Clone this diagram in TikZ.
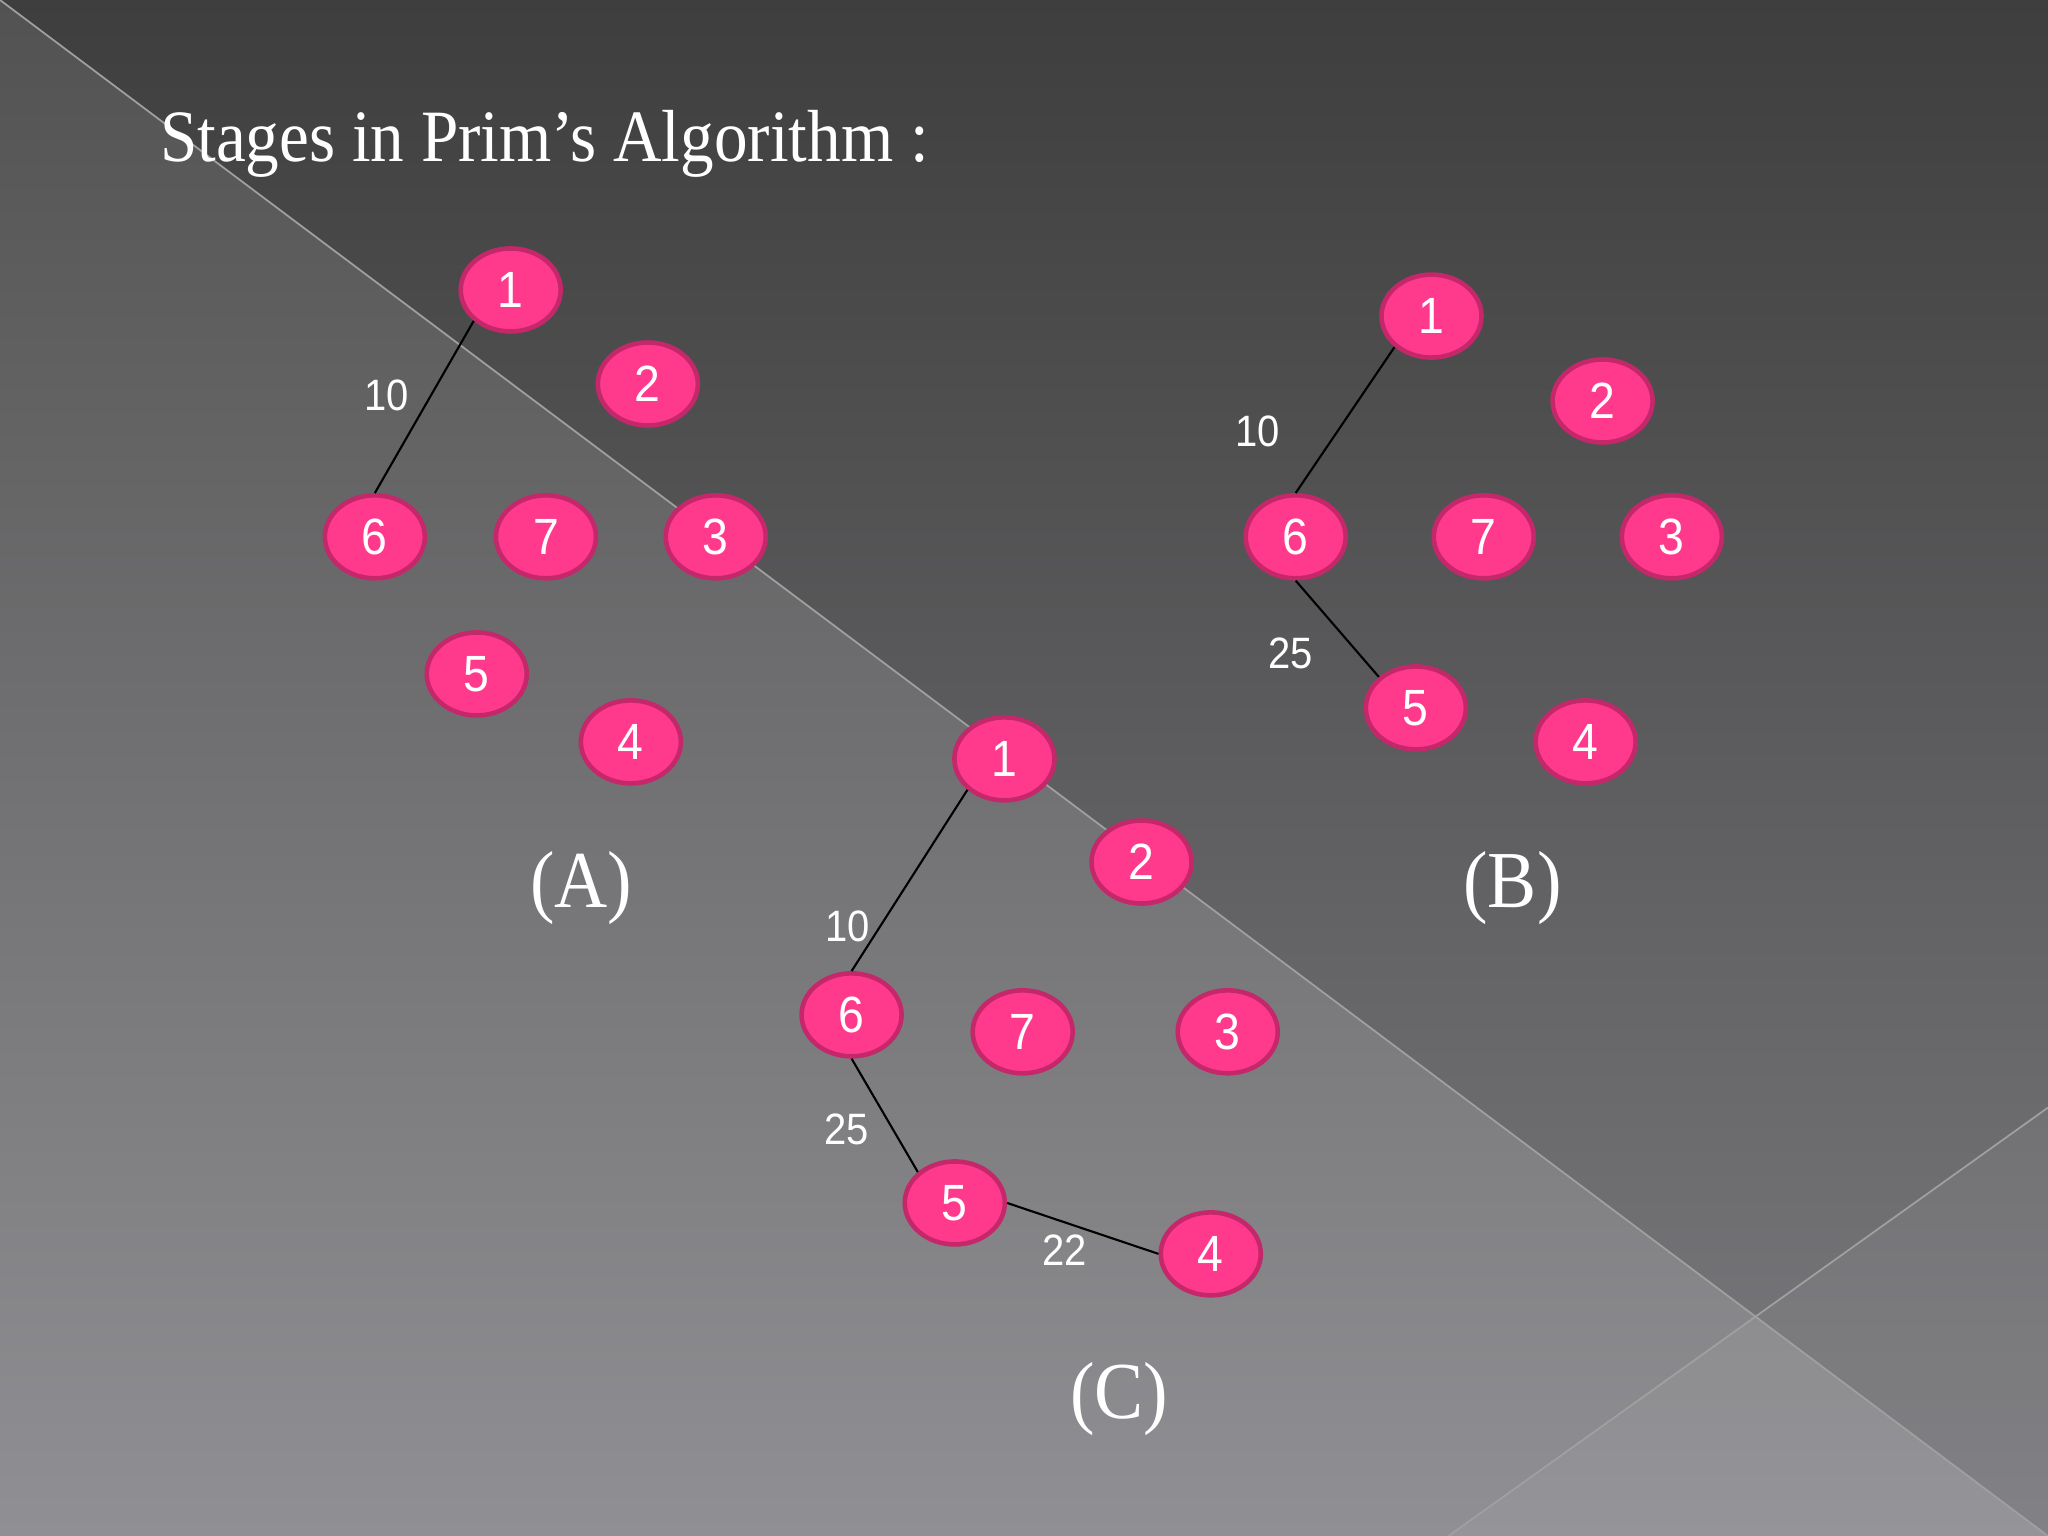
\documentclass[tikz,border=0pt]{standalone}
\usepackage{fontspec}
\setmainfont{Liberation Serif}[FakeStretch=0.91]
\newfontfamily\numfont{Liberation Sans}[FakeStretch=0.91]
\usepackage{tikz}
\usetikzlibrary{shapes.geometric}
\definecolor{vfill}{HTML}{FF3A8C}
\definecolor{vborder}{HTML}{C4286A}
\definecolor{bgtop}{HTML}{3E3E3E}
\definecolor{bgbot}{HTML}{7C7B7F}
\definecolor{lltop}{HTML}{525252}
\definecolor{llbot}{HTML}{908F93}
\definecolor{seamc}{HTML}{A0A0A0}

\begin{document}
\begin{tikzpicture}[x=0.013061cm, y=-0.013061cm,
   vertex/.style={ellipse, draw=vborder, fill=vfill, line width=1.3pt, minimum width=1.0cm, minimum height=0.83cm, inner sep=0pt, text=white, font=\numfont\fontsize{14.5}{16}\selectfont},
   wlabel/.style={inner sep=1pt, text=white, font=\numfont\fontsize{12.5}{14}\selectfont},
   stage/.style={anchor=base, inner sep=0pt, text=white, font=\fontsize{23}{26}\selectfont},
   wire/.style={draw=black, line width=0.6pt},
   seam/.style={draw=seamc, line width=0.5pt}]
   \useasboundingbox (0,0) rectangle (1568,1176);
   \fill[top color=bgtop, bottom color=bgbot] (0,0) rectangle (1568,1176);
   \fill[top color=lltop, bottom color=llbot] (0,0) -- (1568,1176) -- (0,1176) -- cycle;
   \fill[white, opacity=0.05] (1568,848) -- (1109,1176) -- (1568,1176) -- cycle;
   \draw[seam] (0,0) -- (1568,1176);
   \draw[seam] (1568,848) -- (1109,1176);

   \node[anchor=base west, inner sep=0pt, text=white, font=\fontsize{21}{25}\selectfont] (heading) at (122,124) {Stages in Prim’s Algorithm :};

   \node[vertex] (a1) at (391,222) {1};
   \node[vertex] (a2) at (496,294) {2};
   \node[vertex] (a6) at (287,411) {6};
   \node[vertex] (a7) at (418,411) {7};
   \node[vertex] (a3) at (548,411) {3};
   \node[vertex] (a5) at (365,516) {5};
   \node[vertex] (a4) at (483,568) {4};
   \node[wlabel] (a10) at (296,303) {10};
   \path[wire] (a1.south west) -- (a6.north);
   \node[stage] (capA) at (445,695) {(A)};

   \node[vertex] (b1) at (1096,242) {1};
   \node[vertex] (b2) at (1227,307) {2};
   \node[vertex] (b6) at (992,411) {6};
   \node[vertex] (b7) at (1136,411) {7};
   \node[vertex] (b3) at (1280,411) {3};
   \node[vertex] (b5) at (1084,542) {5};
   \node[vertex] (b4) at (1214,568) {4};
   \node[wlabel] (b10) at (963,330) {10};
   \node[wlabel] (b25) at (988,500) {25};
   \path[wire] (b1.south west) -- (b6.north);
   \path[wire] (b6.south) -- (b5.north west);
   \node[stage] (capB) at (1158,695) {(B)};

   \node[vertex] (c1) at (769,581) {1};
   \node[vertex] (c2) at (874,660) {2};
   \node[vertex] (c6) at (652,777) {6};
   \node[vertex] (c7) at (783,790) {7};
   \node[vertex] (c3) at (940,790) {3};
   \node[vertex] (c5) at (731,921) {5};
   \node[vertex] (c4) at (927,960) {4};
   \node[wlabel] (c10) at (649,709) {10};
   \node[wlabel] (c25) at (648,865) {25};
   \node[wlabel] (c22) at (815,957) {22};
   \path[wire] (c1.south west) -- (c6.north);
   \path[wire] (c6.south) -- (c5.north west);
   \path[wire] (c5.east) -- (c4.west);
   \node[stage] (capC) at (857,1086) {(C)};
\end{tikzpicture}
\end{document}
